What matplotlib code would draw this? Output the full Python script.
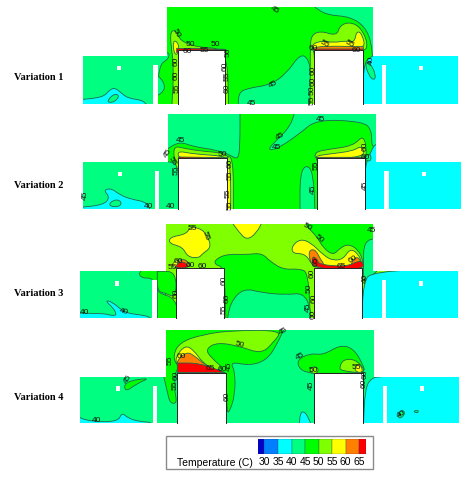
import matplotlib
matplotlib.use("Agg")
import matplotlib.pyplot as plt
from matplotlib.patches import PathPatch, Rectangle
from matplotlib.path import Path

FIG_W = 471
FIG_H = 480

LEVEL_COLORS = {
    30: "#0000c8", 35: "#0080ff", 40: "#00ffff", 45: "#00ff80", 50: "#00ff00",
    55: "#80ff00", 60: "#ffff00", 65: "#ff8000", 70: "#ff0000",
}
LINE_COLOR = "#1c6b48"

variation_names = ["Variation 1", "Variation 2", "Variation 3", "Variation 4"]
variation_y = [77, 186, 293, 398]

legend_edges = [27.5, 30, 35, 40, 45, 50, 55, 60, 65, 67.5]
legend_levels = [30, 35, 40, 45, 50, 55, 60, 65, 70]
legend_ticks = [30, 35, 40, 45, 50, 55, 60, 65]

# panel pixel origin y and height, everything else below is traced in 3x crop units
panel_top = [0, 110, 218, 325]
panel_height = [345, 330, 315, 315]

# left, box left, box right, right, box top, wing top, bottom
panel_outline = [
    (38, 290, 910, 1165, 22, 168, 312),
    (38, 293, 917, 1172, 13, 157, 297),
    (30, 287, 908, 1163, 18, 160, 300),
    (30, 288, 912, 1167, 15, 157, 293),
]
# x0, x1, top of the two blocks
panel_blocks = [
    [(323, 466, 150), (733, 878, 150)],
    [(325, 470, 145), (740, 885, 145)],
    [(318, 463, 150), (733, 877, 150)],
    [(322, 468, 143), (733, 880, 143)],
]
# x0, x1, top of the two slits
panel_slits = [
    [(250, 263, 195), (937, 948, 195)],
    [(255, 268, 183), (943, 957, 183)],
    [(247, 260, 187), (935, 948, 187)],
    [(248, 262, 182), (938, 951, 182)],
]
# x, y of the two small squares, and their size
panel_squares = [
    [(140, 198), (1047, 198)],
    [(143, 185), (1055, 185)],
    [(135, 190), (1046, 190)],
    [(137, 184), (1050, 184)],
]
square_size = 13
panel_base = [50, 50, 55, 45]

# a repeated point keeps a sharp corner in the outline
regions_1 = [
    (45, [(20, 150), (296, 150), (298, 176), (265, 195), (262, 330), (20, 330)]),
    (45, [(258, 228), (272, 232), (287, 262), (272, 282), (258, 288)]),
    (45, [(735, 5), (735, 22), (770, 45), (840, 50), (885, 80), (905, 130), (907, 180), (930, 180), (930, 5)]),
    (40, [(878, 330), (880, 195), (900, 170), (930, 160), (1180, 150), (1180, 330)]),
    (45, [(884, 188), (900, 188), (918, 225), (912, 242), (896, 226)]),
    (40, [(20, 300), (100, 292), (118, 270), (135, 263), (155, 280), (175, 295), (215, 300), (228, 312), (250, 330), (20, 335)]),
    (45, [(110, 305), (130, 282), (148, 285), (140, 300), (125, 308)]),
    (45, [(505, 330), (505, 280), (530, 265), (600, 255), (650, 220), (690, 162), (715, 175), (725, 230), (718, 330)]),
    (55, [(302, 92), (320, 92), (330, 122), (380, 142), (472, 146), (476, 330), (455, 330), (455, 165), (335, 165), (325, 330), (305, 330), (312, 200), (302, 130)]),
    (60, [(310, 122), (322, 125), (328, 146), (320, 168), (310, 152)]),
    (60, [(345, 144), (400, 146), (466, 148), (466, 148), (345, 158), (345, 158)]),
    (55, [(722, 108), (750, 92), (800, 108), (810, 76), (840, 66), (872, 82), (894, 130), (884, 158), (733, 158), (722, 150)]),
    (60, [(725, 132), (760, 122), (790, 128), (830, 122), (853, 128), (860, 92), (877, 102), (887, 152), (730, 156)]),
    (55, [(721, 150), (721, 150), (735, 150), (735, 330), (720, 330)]),
    (65, [(730, 144), (730, 144), (760, 138), (880, 140), (880, 140), (880, 156), (730, 156)]),
    (70, [(733, 147), (733, 147), (880, 147), (880, 147), (880, 158), (880, 158), (733, 158), (733, 158)]),
    (70, [(320, 145), (320, 145), (468, 149), (468, 149), (468, 158), (468, 158), (320, 158), (320, 158)]),
]
labels_1 = [
    (610, 252, "45", 30), (545, 310, "45", 0), (615, 30, "45", -30), (318, 100, "50", -60),
    (362, 132, "50", 0), (436, 132, "50", 0), (352, 155, "60", 0), (402, 150, "55", 0),
    (475, 158, "50", 90), (318, 185, "60", 90), (318, 225, "60", 90), (320, 265, "55", 90),
    (465, 200, "60", 90), (472, 230, "55", 90), (472, 265, "60", 90), (765, 133, "55", -30),
    (838, 133, "55", -30), (730, 145, "60", 0), (905, 180, "40", 90), (730, 210, "60", 90),
    (730, 245, "60", 90), (725, 272, "50", 90), (725, 301, "55", 90), (860, 150, "60", 0),
]

regions_2 = [
    (45, [(280, 5), (510, 5), (510, 100), (505, 150), (480, 135), (440, 120), (370, 110), (330, 95), (293, 115), (280, 130)]),
    (45, [(675, 5), (660, 50), (625, 85), (590, 122), (625, 115), (690, 70), (740, 28), (880, 35), (905, 60), (905, 115), (925, 100), (925, 5)]),
    (45, [(20, 150), (290, 150), (293, 157), (326, 157), (326, 310), (20, 310)]),
    (45, [(690, 310), (690, 190), (710, 163), (730, 190), (735, 310)]),
    (40, [(885, 310), (885, 170), (895, 145), (905, 120), (915, 103), (930, 100), (1185, 150), (1185, 310)]),
    (45, [(885, 140), (900, 130), (905, 150), (890, 155)]),
    (40, [(20, 293), (100, 285), (120, 262), (100, 240), (125, 235), (150, 255), (185, 268), (225, 275), (240, 295), (240, 310), (20, 312)]),
    (45, [(115, 285), (130, 270), (150, 270), (155, 285), (135, 292)]),
    (55, [(315, 110), (330, 112), (380, 122), (472, 130), (475, 155), (325, 155), (325, 180), (318, 170), (310, 130)]),
    (60, [(320, 122), (370, 132), (462, 138), (462, 148), (330, 150)]),
    (55, [(465, 140), (490, 140), (490, 310), (468, 310)]),
    (60, [(468, 160), (482, 165), (482, 310), (468, 310)]),
    (55, [(735, 128), (760, 120), (850, 108), (878, 76), (890, 110), (887, 150), (735, 150)]),
    (60, [(737, 138), (770, 133), (850, 123), (875, 106), (887, 142), (740, 148)]),
    (70, [(325, 141), (325, 141), (470, 143), (470, 143), (470, 150), (470, 150), (325, 150), (325, 150)]),
    (70, [(740, 142), (740, 142), (885, 142), (885, 142), (885, 150), (885, 150), (740, 150), (740, 150)]),
]
labels_2 = [
    (330, 93, "45", 0), (295, 130, "45", 60), (306, 155, "55", -60), (318, 182, "55", 90),
    (458, 135, "50", 0), (480, 160, "60", 90), (480, 197, "55", 90), (475, 250, "55", 90),
    (480, 285, "55", 90), (630, 80, "45", 30), (620, 113, "45", 0), (752, 28, "45", 0),
    (885, 108, "60", 90), (885, 142, "60", 0), (738, 165, "55", 90), (730, 237, "45", 90),
    (885, 225, "45", 90), (45, 255, "45", 90), (237, 290, "40", 0), (300, 290, "40", 0),
]

regions_3 = [
    (45, [(15, 150), (287, 150), (287, 320), (15, 320)]),
    (50, [(205, 165), (215, 180), (240, 180), (250, 187), (262, 225), (318, 240), (330, 320), (262, 320), (262, 150), (225, 150)]),
    (50, [(262, 160), (318, 160), (318, 240), (285, 225), (262, 220)]),
    (50, [(700, 5), (715, 30), (740, 55), (760, 90), (790, 112), (810, 90), (835, 78), (865, 95), (880, 130), (882, 165), (920, 165), (920, 5)]),
    (45, [(880, 140), (882, 70), (920, 60), (920, 160), (880, 195)]),
    (40, [(875, 320), (880, 195), (905, 160), (1175, 150), (1175, 320)]),
    (50, [(435, 125), (470, 108), (530, 110), (575, 105), (600, 130), (640, 155), (690, 152), (715, 165), (722, 320), (468, 320), (463, 148), (435, 140)]),
    (45, [(470, 320), (480, 255), (520, 210), (580, 225), (650, 230), (700, 225), (722, 270), (722, 320)]),
    (60, [(298, 58), (350, 48), (360, 26), (397, 33), (417, 63), (422, 90), (397, 107), (387, 120), (353, 117), (338, 87), (298, 77)]),
    (60, [(480, 5), (580, 5), (560, 45), (530, 67), (505, 40)]),
    (60, [(665, 85), (690, 63), (722, 73), (762, 113), (790, 128), (820, 123), (840, 92), (864, 106), (880, 142), (733, 154), (708, 107), (668, 107)]),
    (60, [(298, 150), (320, 123), (352, 128), (368, 148)]),
    (65, [(713, 100), (735, 92), (752, 125), (765, 142), (728, 152)]),
    (65, [(848, 125), (865, 115), (880, 147), (842, 147)]),
    (65, [(314, 144), (335, 123), (352, 128), (362, 148)]),
    (70, [(725, 113), (742, 123), (747, 140), (830, 146), (866, 128), (880, 133), (880, 154), (733, 154)]),
    (70, [(318, 142), (332, 130), (350, 136), (354, 150), (318, 150)]),
    (40, [(15, 285), (105, 287), (115, 290), (130, 293), (140, 290), (130, 270), (105, 248), (125, 250), (165, 285), (210, 290), (245, 298), (245, 320), (15, 320)]),
]
labels_3 = [
    (368, 30, "55", 0), (407, 55, "55", -70), (712, 28, "50", -30), (748, 62, "50", -40),
    (903, 38, "45", 0), (325, 130, "60", 0), (362, 143, "60", 0), (396, 147, "60", 0),
    (306, 148, "55", 0), (815, 145, "65", 0), (850, 125, "60", 30), (738, 130, "65", 90),
    (725, 165, "60", 90), (463, 187, "60", 90), (318, 225, "60", 90), (470, 240, "60", 90),
    (463, 275, "55", 90), (718, 212, "50", 90), (732, 240, "60", 90), (715, 268, "45", 90),
    (730, 290, "60", 90), (885, 180, "40", 90), (42, 283, "40", 0), (160, 282, "40", -15),
]

regions_4 = [
    (50, [(280, 5), (645, 5), (620, 60), (590, 105), (540, 122), (480, 110), (495, 140), (495, 210), (478, 262), (470, 260), (470, 145), (320, 110), (312, 190), (322, 235), (300, 235), (292, 200), (280, 150)]),
    (55, [(308, 95), (328, 52), (400, 28), (490, 16), (637, 16), (612, 50), (575, 87), (510, 64), (442, 52), (407, 72), (422, 97), (472, 140), (325, 128)]),
    (60, [(314, 100), (345, 60), (372, 76), (397, 112), (432, 134), (325, 128)]),
    (65, [(318, 110), (350, 80), (373, 92), (403, 118), (440, 138), (325, 128)]),
    (70, [(322, 114), (322, 114), (388, 114), (466, 143), (466, 143), (322, 143), (322, 143)]),
    (50, [(680, 105), (720, 85), (760, 90), (810, 60), (850, 70), (880, 120), (885, 145), (735, 145), (725, 145), (690, 135)]),
    (55, [(808, 127), (820, 103), (855, 103), (882, 130), (880, 145), (813, 137)]),
    (55, [(716, 130), (740, 123), (747, 140), (730, 149)]),
    (60, [(853, 125), (870, 116), (880, 142), (858, 142)]),
    (50, [(165, 202), (163, 170), (242, 158), (202, 175)]),
    (40, [(15, 272), (60, 290), (145, 290), (155, 262), (175, 280), (210, 290), (248, 292), (248, 310), (15, 310)]),
    (40, [(688, 310), (690, 262), (705, 260), (718, 285), (728, 310)]),
    (40, [(880, 310), (885, 190), (905, 158), (935, 155), (1180, 150), (1180, 310)]),
    (45, [(983, 272), (995, 253), (1007, 265), (990, 282)]),
    (45, [(1028, 258), (1047, 256), (1042, 265)]),
]
labels_4 = [
    (640, 18, "45", 30), (508, 58, "50", -15), (335, 95, "60", 0), (300, 105, "55", 90),
    (478, 125, "45", 90), (420, 130, "65", 0), (456, 133, "60", 0), (318, 150, "60", 90),
    (315, 182, "55", 90), (470, 213, "60", 90), (690, 95, "45", 30), (730, 135, "50", 0),
    (858, 128, "55", 0), (885, 148, "60", 90), (882, 176, "60", 90), (725, 180, "45", 90),
    (175, 162, "45", 60), (80, 287, "40", 0), (993, 268, "40", 30),
]

panel_regions = [regions_1, regions_2, regions_3, regions_4]
panel_labels = [labels_1, labels_2, labels_3, labels_4]


def pixel_axes(figure, left, top, width, height):
    return figure.add_axes((left / FIG_W, 1 - (top + height) / FIG_H, width / FIG_W, height / FIG_H))


def smooth_path(points, outline):
    # quadratic beziers through the edge midpoints; points outside the domain stay sharp
    doubled = []
    for point in points:
        doubled.append(point)
        if not outline.contains_point(point):
            doubled.append(point)
    count = len(doubled)
    mids = [((doubled[i][0] + doubled[(i + 1) % count][0]) / 2,
             (doubled[i][1] + doubled[(i + 1) % count][1]) / 2) for i in range(count)]
    verts = [mids[-1]]
    codes = [Path.MOVETO]
    for i in range(count):
        verts += [doubled[i], mids[i]]
        codes += [Path.CURVE3, Path.CURVE3]
    return Path(verts, codes)


def draw_panel(figure, index):
    axes = pixel_axes(figure, 70, panel_top[index], 400, panel_height[index] / 3)
    axes.set_xlim(0, 1200)
    axes.set_ylim(panel_height[index], 0)
    axes.axis("off")

    left, box_left, box_right, right, box_top, wing_top, bottom = panel_outline[index]
    outline = Path([(left, wing_top), (box_left, wing_top), (box_left, box_top), (box_right, box_top),
                    (box_right, wing_top), (right, wing_top), (right, bottom), (left, bottom), (left, wing_top)])
    domain = PathPatch(outline, facecolor=LEVEL_COLORS[panel_base[index]], edgecolor="none", zorder=1)
    axes.add_patch(domain)

    for order, (level, points) in enumerate(panel_regions[index]):
        patch = PathPatch(smooth_path(points, outline), facecolor=LEVEL_COLORS[level], edgecolor=LINE_COLOR,
                          linewidth=0.6, zorder=2 + order * 0.01)
        axes.add_patch(patch)
        patch.set_clip_path(domain)

    for x0, x1, top in panel_blocks[index]:
        axes.add_patch(Rectangle((x0, top), x1 - x0, bottom - top + 10, facecolor="white", edgecolor="none", zorder=3))
        axes.plot([x0, x0, x1, x1], [bottom, top, top, bottom], color="#202020", linewidth=0.7, zorder=3.1)
    for x0, x1, top in panel_slits[index]:
        axes.add_patch(Rectangle((x0, top), x1 - x0, bottom - top + 10, facecolor="white", edgecolor="none", zorder=3))
    for x, y in panel_squares[index]:
        axes.add_patch(Rectangle((x, y), square_size, square_size, facecolor="white", edgecolor="none", zorder=3))

    for x, y, text, angle in panel_labels[index]:
        axes.text(x, y, text, rotation=angle, ha="center", va="center", fontsize=6,
                  family="Liberation Sans", color="#111111", zorder=4)


def draw_legend(figure):
    frame = pixel_axes(figure, 0, 0, FIG_W, FIG_H)
    frame.set_xlim(0, FIG_W)
    frame.set_ylim(FIG_H, 0)
    frame.axis("off")
    frame.add_patch(Rectangle((166, 436), 207, 33, facecolor="white", edgecolor="#8a8a8a", linewidth=1))
    frame.text(215, 463, "Temperature (C)", ha="center", va="center", fontsize=7.5, family="Liberation Sans")
    for name, y in zip(variation_names, variation_y):
        frame.text(14, y, name, ha="left", va="center", fontsize=7.5, family="Liberation Serif", weight="bold")

    bar = pixel_axes(figure, 257.7, 439, 108.3, 15.3)
    colors = [LEVEL_COLORS[level] for level in legend_levels]
    for i, color in enumerate(colors):
        bar.bar(legend_edges[i], 1, width=legend_edges[i + 1] - legend_edges[i], align="edge",
                color=color, edgecolor="#303060", linewidth=0.2)
    bar.set_xlim(legend_edges[0], legend_edges[-1])
    bar.set_ylim(0, 1)
    bar.set_yticks([])
    bar.set_xticks(legend_ticks)
    bar.tick_params(axis="x", length=0, pad=2, labelsize=7.5)
    for label in bar.get_xticklabels():
        label.set_family("Liberation Sans")
    bar.spines[["top", "bottom", "left", "right"]].set_visible(False)


figure = plt.figure(figsize=(FIG_W / 100, FIG_H / 100), dpi=100)
draw_legend(figure)
for index in range(4):
    draw_panel(figure, index)
figure.savefig("out.png", dpi=100)
